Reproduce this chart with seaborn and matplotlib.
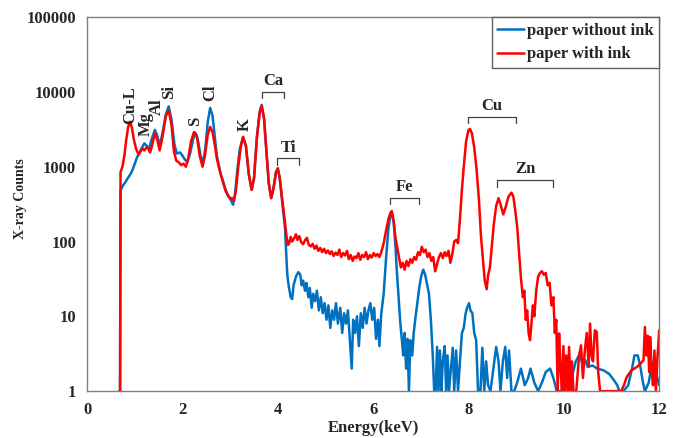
import matplotlib
matplotlib.use("Agg")
import matplotlib.pyplot as plt
import seaborn as sns
import pandas as pd

# ---- data (keV, counts) ----
energy_blank = [
    0.68, 0.69, 0.70, 0.75, 0.80, 0.85, 0.90, 0.95, 1.00, 1.05, 1.10, 1.15, 1.20, 1.25, 1.30, 1.35,
    1.42, 1.47, 1.52, 1.58, 1.65, 1.71, 1.77, 1.83, 1.88, 1.95, 2.00, 2.05, 2.10, 2.16, 2.22, 2.27,
    2.32, 2.38, 2.43, 2.48, 2.53, 2.58, 2.63, 2.68, 2.72, 2.76, 2.80, 2.85, 2.90, 2.95, 3.00, 3.03,
    3.06, 3.10, 3.15, 3.20, 3.27, 3.33, 3.39, 3.45, 3.50, 3.56, 3.62, 3.66, 3.71, 3.76, 3.81, 3.86,
    3.91, 3.96, 4.00, 4.04, 4.08, 4.12, 4.15, 4.18, 4.20, 4.23, 4.27, 4.30, 4.33, 4.38, 4.43, 4.47,
    4.50, 4.53, 4.57, 4.60, 4.64, 4.67, 4.71, 4.74, 4.78, 4.82, 4.86, 4.90, 4.94, 4.98, 5.02, 5.06,
    5.10, 5.14, 5.18, 5.22, 5.26, 5.31, 5.35, 5.39, 5.43, 5.47, 5.51, 5.55, 5.58, 5.62, 5.66, 5.70,
    5.74, 5.78, 5.82, 5.86, 5.90, 5.94, 5.98, 6.02, 6.06, 6.10, 6.13, 6.17, 6.22, 6.27, 6.32, 6.36,
    6.39, 6.43, 6.47, 6.50, 6.54, 6.57, 6.60, 6.63, 6.66, 6.69, 6.72, 6.75, 6.78, 6.82, 6.85, 6.89,
    6.93, 6.97, 7.01, 7.05, 7.09, 7.13, 7.17, 7.21, 7.25, 7.28, 7.31, 7.34, 7.37, 7.40, 7.43, 7.46,
    7.50, 7.53, 7.56, 7.59, 7.63, 7.67, 7.70, 7.74, 7.78, 7.82, 7.86, 7.90, 7.94, 7.97, 8.01, 8.04,
    8.08, 8.12, 8.16, 8.20, 8.25, 8.29, 8.33, 8.37, 8.41, 8.46, 8.52, 8.58, 8.63, 8.67, 8.72, 8.77,
    8.81, 8.85, 8.90, 8.96, 9.02, 9.10, 9.18, 9.25, 9.30, 9.38, 9.46, 9.54, 9.62, 9.71, 9.78, 9.85,
    9.95, 10.05, 10.15, 10.25, 10.34, 10.40, 10.45, 10.50, 10.60, 10.70, 10.83, 10.95, 11.05, 11.12,
    11.16, 11.25, 11.35, 11.43, 11.48, 11.55, 11.60, 11.66, 11.70, 11.78, 11.85, 11.90, 11.95, 12.00,
]
counts_blank = [
    1, 1, 480, 560, 620, 700, 780, 900, 1100, 1350, 1550, 1800, 2050, 1900, 1750, 2300,
    3100, 2600, 1900, 2800, 5000, 6400, 4200, 2000, 1500, 1550, 1400, 1250, 1150, 1500, 2300, 2850,
    2300, 1400, 1100, 1800, 4000, 6100, 4800, 2400, 1400, 1050, 800, 640, 500, 410, 380, 340,
    310, 420, 900, 1700, 2500, 1900, 800, 490, 700, 2500, 5500, 6700, 4500, 1600, 600, 380,
    520, 850, 960, 700, 400, 230, 150, 60, 35, 25, 18, 17, 26, 34, 39, 36,
    26, 30, 22, 28, 18, 24, 13, 20, 16, 22, 12, 18, 11, 15, 9, 14,
    7, 12, 9, 15, 8, 13, 6, 11, 8, 12, 5, 2, 9, 6, 10, 4,
    11, 7, 13, 8, 12, 15, 9, 13, 5, 9, 4, 11, 20, 60, 150, 220,
    240, 180, 80, 37, 15, 8, 5, 3, 6, 2, 5, 1, 4.8, 3, 6, 10,
    16, 25, 35, 42, 36, 27, 20, 9, 3, 1, 1, 3.9, 1, 3.5, 1, 2.5,
    4, 1, 3, 1, 2, 3.8, 1, 3.5, 1, 2.5, 5.9, 7, 11, 13, 15, 12,
    11, 6, 4.8, 1, 1, 3.8, 1, 2.5, 1.2, 1, 2, 3.9, 2.5, 1, 2.5, 3.9,
    1.5, 3.5, 1, 1, 1.3, 2, 1.2, 1.5, 2, 1.3, 1, 1.3, 1.8, 2, 1.5, 1,
    1, 1.2, 1.4, 2.5, 3.2, 2.1, 2.6, 2.1, 2.2, 2.0, 1.9, 1.7, 1.4, 1.2,
    1, 1, 1.2, 2, 3, 3, 2.2, 1.3, 1, 1.3, 2.4, 2.2, 1.6, 1.2,
]

energy_ink = [
    0.68, 0.69, 0.70, 0.74, 0.78, 0.82, 0.86, 0.90, 0.94, 0.98, 1.03, 1.08, 1.12, 1.16, 1.20, 1.24,
    1.28, 1.32, 1.36, 1.42, 1.47, 1.52, 1.58, 1.65, 1.71, 1.77, 1.82, 1.87, 1.92, 1.97, 2.02, 2.07,
    2.12, 2.18, 2.24, 2.30, 2.36, 2.42, 2.47, 2.53, 2.58, 2.63, 2.68, 2.72, 2.76, 2.80, 2.85, 2.90,
    2.95, 3.00, 3.04, 3.08, 3.12, 3.17, 3.22, 3.27, 3.33, 3.39, 3.45, 3.50, 3.56, 3.62, 3.66, 3.71,
    3.76, 3.81, 3.86, 3.91, 3.96, 4.00, 4.04, 4.08, 4.12, 4.15, 4.18, 4.21, 4.24, 4.27, 4.30, 4.34,
    4.38, 4.41, 4.45, 4.49, 4.53, 4.57, 4.61, 4.65, 4.69, 4.73, 4.77, 4.81, 4.85, 4.89, 4.93, 4.97,
    5.01, 5.05, 5.09, 5.13, 5.17, 5.21, 5.25, 5.29, 5.33, 5.37, 5.41, 5.45, 5.49, 5.53, 5.57, 5.61,
    5.65, 5.69, 5.73, 5.77, 5.81, 5.85, 5.89, 5.93, 5.97, 6.01, 6.05, 6.09, 6.13, 6.17, 6.22, 6.27,
    6.32, 6.36, 6.39, 6.43, 6.47, 6.51, 6.55, 6.58, 6.62, 6.66, 6.70, 6.74, 6.78, 6.82, 6.86, 6.90,
    6.94, 6.98, 7.02, 7.06, 7.10, 7.14, 7.18, 7.22, 7.26, 7.30, 7.34, 7.38, 7.42, 7.46, 7.50, 7.54,
    7.58, 7.62, 7.66, 7.70, 7.74, 7.78, 7.82, 7.86, 7.90, 7.95, 8.00, 8.03, 8.07, 8.12, 8.17, 8.22,
    8.26, 8.30, 8.34, 8.38, 8.41, 8.45, 8.49, 8.53, 8.58, 8.63, 8.68, 8.73, 8.78, 8.84, 8.90, 8.94,
    8.98, 9.02, 9.06, 9.10, 9.14, 9.17, 9.20, 9.23, 9.26, 9.29, 9.32, 9.35, 9.38, 9.42, 9.46, 9.50,
    9.54, 9.58, 9.62, 9.66, 9.70, 9.74, 9.78, 9.81, 9.84, 9.87, 9.90, 9.93, 9.96, 9.99, 10.02, 10.05,
    10.08, 10.11, 10.14, 10.17, 10.20, 10.26, 10.32, 10.36, 10.40, 10.44, 10.48, 10.52, 10.55, 10.58,
    10.61, 10.65, 10.69, 10.72, 10.76, 10.90, 11.05, 11.20, 11.26, 11.32, 11.42, 11.53, 11.60, 11.67,
    11.70, 11.73, 11.76, 11.79, 11.81, 11.84, 11.87, 11.90, 11.93, 11.96, 12.00,
]
counts_ink = [
    1, 1, 850, 1000, 1400, 2300, 3400, 4000, 3300, 2300, 1700, 1450, 1600, 1750, 1650, 1800,
    1750, 1550, 1900, 2800, 2300, 1650, 2500, 4700, 5700, 3600, 1600, 1200, 1150, 1050, 1100, 1000,
    1300, 2200, 2900, 2600, 1400, 1000, 1400, 2700, 3400, 2900, 1900, 1300, 1000, 800, 620, 480,
    420, 370, 380, 350, 480, 1000, 1800, 2500, 1900, 800, 490, 700, 2400, 5300, 6500, 4400,
    1600, 600, 380, 520, 830, 930, 700, 420, 260, 180, 120, 90, 96, 115, 100, 110,
    125, 105, 118, 98, 92, 104, 112, 90, 86, 93, 80, 88, 75, 82, 72, 80,
    70, 76, 68, 74, 64, 71, 66, 78, 62, 70, 65, 75, 58, 66, 55, 63,
    60, 70, 57, 66, 62, 72, 58, 66, 61, 70, 64, 68, 62, 72, 95, 140,
    200, 240, 255, 190, 110, 80, 58, 45, 52, 42, 55, 47, 58, 52, 62, 57,
    72, 66, 85, 72, 78, 62, 70, 55, 62, 40, 50, 62, 70, 60, 72, 64,
    75, 52, 68, 100, 105, 95, 200, 480, 1000, 2200, 3100, 3200, 2800, 1800, 900, 350,
    120, 60, 30, 23, 35, 46, 90, 170, 300, 380, 300, 230, 290, 400, 450, 400,
    260, 160, 70, 32, 18, 22, 9, 12, 6, 4.8, 8, 14, 10, 22, 34, 38,
    40, 36, 38, 26, 28, 14, 18, 6, 9, 1, 5.9, 2, 1, 4, 1, 3,
    1, 3.9, 1, 2.5, 1, 1, 3, 4.1, 1.5, 3.5, 6, 2.2, 8, 3,
    2.5, 6.5, 6.2, 1.8, 1, 1, 1, 1, 1.2, 1.55, 1.9, 2.1, 2.3, 2.6,
    7.2, 3, 5.5, 1.8, 5.3, 2, 1.2, 3.5, 1, 2.6, 6.5,
]

series_names = ["paper without ink", "paper with ink"]

# rotated peak labels: (text, keV, counts)
peak_labels = [
    ("Cu-L", 0.90, 6650), ("Mg", 1.22, 3700), ("Al", 1.46, 6300), ("Si", 1.71, 10000),
    ("S", 2.27, 4000), ("Cl", 2.58, 9600), ("K", 3.31, 3700),
]
# bracket labels: (text, keV start, keV end, counts)
bracket_labels = [
    ("Ca", 3.66, 4.13, 10000), ("Ti", 3.98, 4.45, 1290), ("Fe", 6.36, 6.97, 385),
    ("Cu", 7.99, 9.00, 4660), ("Zn", 8.60, 9.77, 660),
]


def main():
    df = pd.concat([
        pd.DataFrame({"energy": energy_blank, "counts": counts_blank, "sample": series_names[0]}),
        pd.DataFrame({"energy": energy_ink, "counts": counts_ink, "sample": series_names[1]}),
    ])

    sns.set_style("white")
    plt.rcParams["font.family"] = ["Liberation Serif", "DejaVu Serif"]
    plt.rcParams["font.weight"] = "bold"

    fig = plt.figure(figsize=(6.81, 4.38), dpi=100)
    ax = fig.add_axes([0.128, 0.107, 0.840, 0.854])

    sns.lineplot(
        data=df, x="energy", y="counts", hue="sample",
        palette={series_names[0]: "#0070C0", series_names[1]: "#FF0000"},
        linewidth=1.8, estimator=None, sort=False, ax=ax,
    )

    ax.set_yscale("log")
    ax.set_xlim(0, 12)
    ax.set_ylim(1, 100000)
    ax.set_xticks(range(0, 13, 2))
    ax.set_yticks([1, 10, 100, 1000, 10000, 100000])
    ax.set_yticklabels(["1", "10", "100", "1000", "10000", "100000"])
    ax.minorticks_off()
    ax.tick_params(axis="both", which="major", direction="out", length=5, width=1,
                   color="#808080", labelsize=12, pad=3)
    for lab in ax.get_xticklabels() + ax.get_yticklabels():
        lab.set_fontweight("bold")
    for s in ax.spines.values():
        s.set_color("#808080")
        s.set_linewidth(1.0)
    ax.set_xlabel("Energy(keV)", fontsize=12, fontweight="bold", labelpad=1)
    ax.set_ylabel("X-ray Counts", fontsize=10, fontweight="bold")
    ax.yaxis.set_label_coords(-0.106, 0.515)

    # element labels
    for txt, x, y in peak_labels:
        ax.text(x, y, txt, rotation=90, ha="center", va="center", fontsize=12, fontweight="bold")
    for txt, x0, x1, y in bracket_labels:
        ax.plot([x0, x0, x1, x1], [y * 0.82, y, y, y * 0.82], color="#404040", lw=0.9)
        ax.annotate(txt, ((x0 + x1) / 2, y), xytext=(0, 2), textcoords="offset points",
                    ha="center", va="bottom", fontsize=12, fontweight="bold")

    ax.legend(title="", loc="upper right", bbox_to_anchor=(1, 1), borderaxespad=0,
              fancybox=False, edgecolor="#606060", framealpha=1, handlelength=1.6,
              handletextpad=0.15, borderpad=0.35, labelspacing=0.45,
              prop={"weight": "bold", "size": 12})

    fig.savefig("out.png", dpi=100)


if __name__ == "__main__":
    main()
